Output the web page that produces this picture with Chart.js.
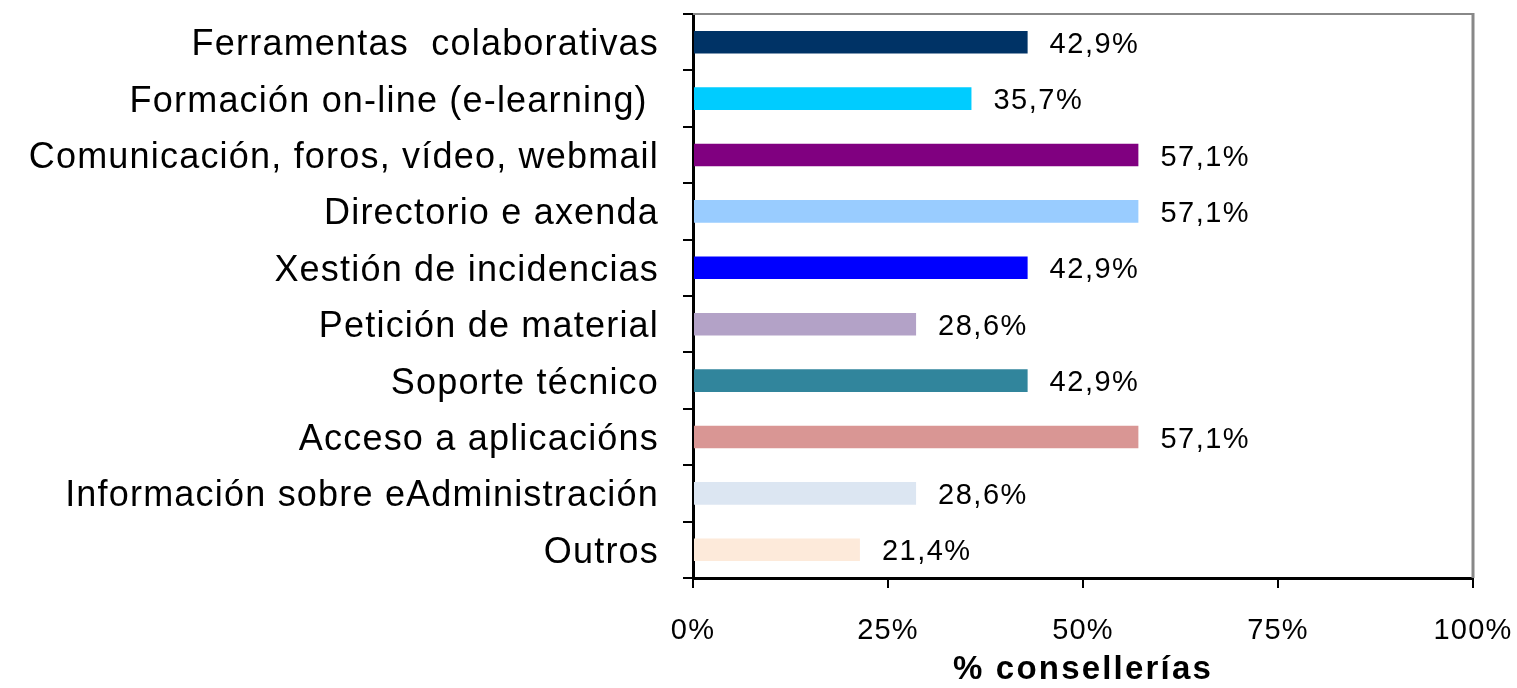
<!DOCTYPE html>
<html>
<head>
<meta charset="utf-8">
<script src="https://cdn.jsdelivr.net/npm/chart.js@4/dist/chart.umd.min.js"></script>
<style>
  html, body { margin: 0; padding: 0; background: #fff; }
  #wrap { position: relative; width: 1517px; height: 688px; }
</style>
</head>
<body>
<div id="wrap"><canvas id="c"></canvas></div>
<script>
const categories = [
  "Ferramentas  colaborativas",
  "Formación on-line (e-learning) ",
  "Comunicación, foros, vídeo, webmail",
  "Directorio e axenda",
  "Xestión de incidencias",
  "Petición de material",
  "Soporte técnico",
  "Acceso a aplicacións",
  "Información sobre eAdministración",
  "Outros"
];
const values = [42.9, 35.7, 57.1, 57.1, 42.9, 28.6, 42.9, 57.1, 28.6, 21.4];
const colors = ["#003366", "#00CCFF", "#800080", "#99CCFF", "#0000FF",
                "#B3A2C7", "#31859C", "#D99694", "#DCE6F2", "#FDEADA"];
const axisTitle = "% consellerías";

const FONT = "'Liberation Sans', Arial, sans-serif";

const overlay = {
  id: 'overlay',
  beforeDraw(chart) {
    chart.ctx.letterSpacing = '2.2px';
  },
  afterDatasetsDraw(chart) {
    const ctx = chart.ctx;
    const a = chart.chartArea;
    ctx.save();
    // gray frame top & right
    ctx.strokeStyle = '#888888';
    ctx.lineWidth = 2;
    ctx.beginPath();
    ctx.moveTo(a.left, a.top);
    ctx.lineTo(a.right, a.top);
    ctx.stroke();
    ctx.lineWidth = 3;
    ctx.beginPath();
    ctx.moveTo(a.right, a.top - 1);
    ctx.lineTo(a.right, a.bottom);
    ctx.stroke();
    // value labels
    ctx.letterSpacing = '1.5px';
    ctx.font = "29px " + FONT;
    ctx.fillStyle = '#000';
    ctx.textAlign = 'left';
    ctx.textBaseline = 'middle';
    const meta = chart.getDatasetMeta(0);
    meta.data.forEach((bar, i) => {
      const txt = values[i].toFixed(1).replace('.', ',') + '%';
      ctx.fillText(txt, bar.x + 22, bar.y + 2.5);
    });
    ctx.restore();
    ctx.letterSpacing = '1.2px';
  },
  afterDraw(chart) {
    chart.ctx.letterSpacing = '0px';
  }
};

new Chart(document.getElementById('c'), {
  type: 'bar',
  data: {
    labels: categories,
    datasets: [{
      data: values,
      backgroundColor: colors,
      borderWidth: 0,
      categoryPercentage: 1,
      barPercentage: 0.4
    }]
  },
  options: {
    indexAxis: 'y',
    responsive: true,
    maintainAspectRatio: false,
    animation: false,
    layout: { padding: { top: 14, right: 44, left: 0, bottom: 0 } },
    plugins: { legend: { display: false }, tooltip: { enabled: false } },
    scales: {
      x: {
        min: 0, max: 100,
        afterFit(s) { s.height = 110; s.paddingLeft = 0; s.paddingRight = 0; },
        ticks: {
          stepSize: 25,
          callback: v => v + '%',
          color: '#000',
          font: { size: 29, family: FONT },
          padding: 26,
          maxRotation: 0,
          z: 1
        },
        grid: { drawOnChartArea: false, drawTicks: true, tickLength: 10, color: '#000', lineWidth: 2 },
        border: { color: '#000', width: 3 },
        title: {
          display: true,
          text: axisTitle,
          color: '#000',
          font: { size: 33, weight: 'bold', family: FONT },
          padding: { top: 0, bottom: -2 }
        }
      },
      y: {
        afterFit(s) { s.width = 693; s.paddingTop = 0; s.paddingBottom = 0; },
        ticks: {
          color: '#000',
          font: { size: 36, family: FONT },
          padding: 24,
          labelOffset: 3,
          z: 1
        },
        grid: { drawOnChartArea: false, drawTicks: true, tickLength: 10, color: '#000', lineWidth: 2, offset: true },
        border: { color: '#000', width: 3 }
      }
    }
  },
  plugins: [overlay]
});
</script>
</body>
</html>
